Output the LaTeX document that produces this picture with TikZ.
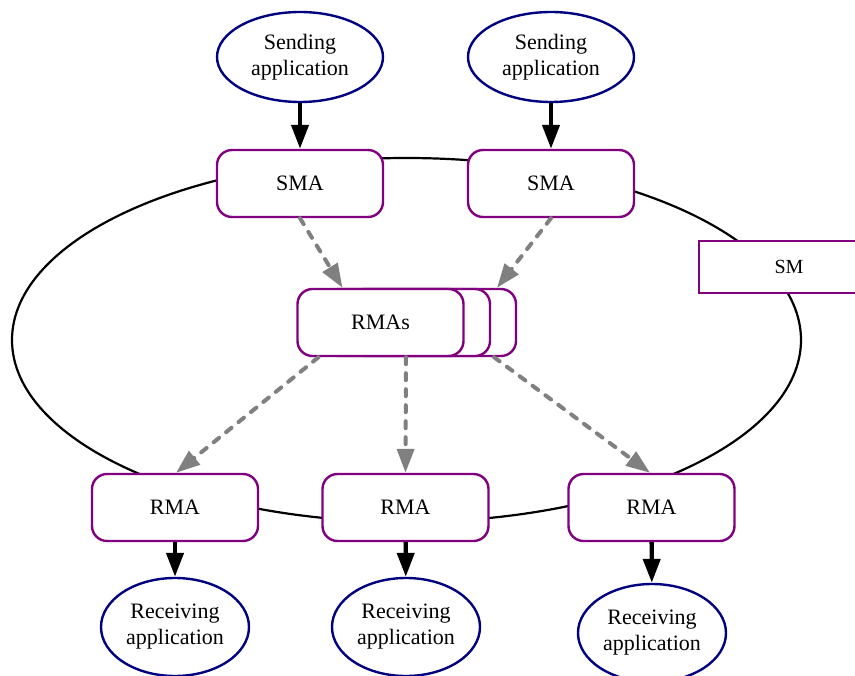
\documentclass[tikz,border=0pt]{standalone}
\usepackage{fontspec}
\setmainfont{Liberation Serif}
\usetikzlibrary{shapes.geometric,arrows.meta,calc}

\definecolor{boxpurple}{RGB}{128,0,128}
\definecolor{appnavy}{RGB}{0,0,128}
\definecolor{flowgray}{RGB}{128,128,128}

\tikzset{
  agent/.style={draw=boxpurple, line width=2.4pt, fill=white, rounded corners=15pt,
    minimum width=166pt, minimum height=67pt, inner sep=0pt,
    font=\fontsize{22}{26}\selectfont},
  app/.style={draw=appnavy, line width=2.4pt, fill=white, ellipse,
    minimum width=166pt, minimum height=90pt, inner sep=0pt, align=center,
    font=\fontsize{22}{26}\selectfont},
  rapp/.style={app, minimum width=148pt, minimum height=98pt},
  manager/.style={draw=boxpurple, line width=1.4pt, fill=white,
    minimum width=180pt, minimum height=52pt, inner sep=0pt,
    font=\fontsize{20}{24}\selectfont},
  feed/.style={line width=4.3pt, -{Triangle[length=24pt,width=17pt]}},
  flow/.style={draw=flowgray, line width=4pt, line cap=round,
    dash pattern=on 7pt off 9pt,
    -{Triangle[length=24pt,width=17pt,fill=flowgray]}},
  ring/.style={line width=2.2pt},
}

\begin{document}
\begin{tikzpicture}[x=1pt,y=-1pt]
\useasboundingbox (0,0) rectangle (855,676);
\clip (0,0) rectangle (855,676);
\fill[white] (0,0) rectangle (855,676);

% the ring that links all agents
\draw[ring] (406.5,340) ellipse [x radius=394.5, y radius=182];

% sending side
\node[app] (send1) at (300,57) {Sending\\application};
\node[app] (send2) at (551,57) {Sending\\application};
\node[agent] (sma1) at (300,183.5) {SMA};
\node[agent] (sma2) at (551,183.5) {SMA};

% stacked receiving agents (back to front)
\node[agent] (rmas3) at (433,322.5) {};
\node[agent] (rmas2) at (407,322.5) {};
\node[agent] (rmas) at (380.5,322.5) {RMAs};

% session manager
\node[manager] (sm) at (789,267) {SM};

% receiving side
\node[agent] (rma1) at (175,507.5) {RMA};
\node[agent] (rma2) at (405.5,507.5) {RMA};
\node[agent] (rma3) at (651.5,507.5) {RMA};
\node[rapp] (recv1) at (175,627) {Receiving\\application};
\node[rapp] (recv2) at (406,627) {Receiving\\application};
\node[rapp] (recv3) at (652,633) {Receiving\\application};

% application <-> agent hand-offs
\draw[feed] (send1) -- (sma1);
\draw[feed] (send2) -- (sma2);
\draw[feed] (rma1) -- (recv1);
\draw[feed] (rma2) -- (recv2);
\draw[feed] (rma3) -- (recv3);

% multicast data flow
\draw[flow] (sma1.south) -- ($(rmas.north)+(-38,0)$);
\draw[flow] (sma2.south) -- ($(rmas.north)+(116.5,0)$);
\draw[flow] ($(rmas.south)+(-62,0)$) -- ($(rma1.north)+(1,0)$);
\draw[flow] ($(rmas.south)+(25.5,0)$) -- (rma2.north);
\draw[flow] ($(rmas.south)+(113.5,0)$) -- ($(rma3.north)+(-1.5,0)$);
\end{tikzpicture}
\end{document}
